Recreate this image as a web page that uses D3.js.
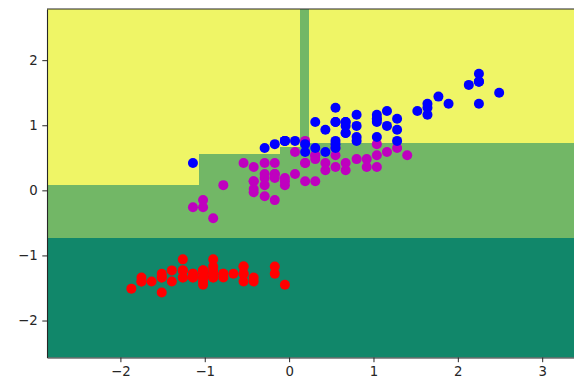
<!DOCTYPE html>
<html><head><meta charset="utf-8">
<script src="https://cdn.jsdelivr.net/npm/d3@7"></script>
<style>body{margin:0;background:#fff}svg{display:block}</style>
</head><body><svg id="c" width="574" height="383"></svg>
<script>
// ---- data ----
const xTicks = [-2, -1, 0, 1, 2, 3];
const yTicks = [-2, -1, 0, 1, 2];
const xDomain = [-2.870, 3.492];
const yDomain = [-2.568, 2.786];

// decision regions (rectangles, class index), later ones painted on top
const regionX0 = [-2.870, -2.870, -2.870, -1.070, -0.105, 0.235];
const regionX1 = [ 3.492,  3.492, -1.070, -0.105,  0.125, 3.492];
const regionY0 = [-2.568, -0.738,  0.076,  0.563,  0.666, 0.722];
const regionY1 = [-0.738,  2.786,  2.786,  2.786,  2.786, 2.786];
const regionClass = [0, 1, 2, 2, 2, 2];
const regionColors = ["#11876a", "#72b766", "#eff566"];

const class0X = [-0.90,-1.14,-1.39,-1.51,-1.02,-0.54,-1.51,-1.02,-1.75,-1.14,-0.54,-1.26,-1.26,-1.87,-0.05,-0.17,-0.54,-0.90,-0.17,-0.90,-0.54,-0.90,-1.51,-0.90,-1.26,-1.02,-1.02,-0.78,-0.78,-1.39,-1.26,-0.54,-0.78,-0.42,-1.14,-1.02,-0.42,-1.14,-1.75,-0.90,-1.02,-1.63,-1.75,-1.02,-0.90,-1.26,-0.90,-1.51,-0.66,-1.02];
const class0Y = [-1.34,-1.34,-1.40,-1.28,-1.34,-1.17,-1.34,-1.28,-1.34,-1.28,-1.28,-1.23,-1.34,-1.51,-1.45,-1.28,-1.40,-1.34,-1.17,-1.28,-1.17,-1.28,-1.57,-1.17,-1.06,-1.23,-1.23,-1.28,-1.34,-1.23,-1.23,-1.28,-1.28,-1.34,-1.28,-1.45,-1.40,-1.34,-1.40,-1.28,-1.40,-1.40,-1.40,-1.23,-1.06,-1.34,-1.23,-1.34,-1.28,-1.34];

const class1X = [1.40,0.67,1.28,-0.42,0.80,-0.17,0.55,-1.14,0.92,-0.78,-1.02,0.07,0.19,0.31,-0.29,1.04,-0.29,-0.05,0.43,-0.29,0.07,0.31,0.55,0.31,0.67,0.92,1.16,1.04,0.19,-0.17,-0.42,-0.42,-0.05,0.19,-0.54,0.19,1.04,0.55,-0.29,-0.42,-0.42,0.31,-0.05,-1.02,-0.29,-0.17,-0.17,0.43,-0.90,-0.17];
const class1Y = [0.54,0.42,0.65,0.14,0.48,0.42,0.54,-0.26,0.48,0.08,-0.15,0.25,0.14,0.54,-0.09,0.36,0.42,0.19,0.42,0.08,0.59,0.14,0.65,0.54,0.31,0.36,0.59,0.71,0.42,-0.15,0.02,-0.03,0.08,0.76,0.42,0.42,0.54,0.36,0.19,0.14,0.36,0.48,0.14,-0.26,0.25,0.25,0.25,0.31,-0.43,0.19];

const class2X = [0.55,-0.05,1.52,0.55,0.80,2.13,-1.14,1.77,1.04,1.64,0.80,0.67,1.16,-0.17,-0.05,0.67,0.80,2.25,2.25,0.19,1.28,-0.29,2.25,0.55,1.04,1.64,0.43,0.31,0.67,1.64,1.89,2.49,0.67,0.55,0.31,2.25,0.55,0.67,0.19,1.28,1.04,1.28,-0.05,1.16,1.04,1.04,0.55,0.80,0.43,0.07];
const class2Y = [1.27,0.76,1.22,1.05,1.16,1.62,0.42,1.44,1.16,1.33,0.76,0.88,0.99,0.71,0.76,0.88,0.99,1.67,1.79,0.71,1.10,0.65,1.67,0.65,1.10,1.27,0.59,0.65,1.05,1.16,1.33,1.50,1.05,0.76,1.05,1.33,1.05,0.99,0.59,0.93,1.05,0.76,0.76,1.22,1.10,0.82,0.71,0.82,0.93,0.76];

const seriesX = [class0X, class1X, class2X];
const seriesY = [class0Y, class1Y, class2Y];
const seriesColors = ["#ff0000", "#bf00bf", "#0000ff"];

// ---- layout ----
const svg = d3.select("#c");
const mLeft = 47, mTop = 9, mRight = 583.7, mBottom = 357.5;
const x = d3.scaleLinear().domain(xDomain).range([mLeft, mRight]);
const y = d3.scaleLinear().domain(yDomain).range([mBottom, mTop]);

svg.append("defs").append("clipPath").attr("id", "clip")
  .append("rect").attr("x", mLeft).attr("y", mTop).attr("width", mRight - mLeft).attr("height", mBottom - mTop);

const plot = svg.append("g").attr("clip-path", "url(#clip)");

plot.selectAll("rect.region").data(regionClass.map((c, i) => ({c, i})))
  .join("rect").attr("class", "region")
  .attr("x", d => x(regionX0[d.i]))
  .attr("width", d => x(regionX1[d.i]) - x(regionX0[d.i]))
  .attr("y", d => y(regionY1[d.i]))
  .attr("height", d => y(regionY0[d.i]) - y(regionY1[d.i]))
  .attr("fill", d => regionColors[d.c])
  .attr("shape-rendering", "crispEdges");

seriesX.forEach((xs, k) => {
  plot.append("g").selectAll("circle").data(xs.map((v, i) => [v, seriesY[k][i]]))
    .join("circle")
    .attr("cx", d => x(d[0])).attr("cy", d => y(d[1]))
    .attr("r", 5).attr("fill", seriesColors[k]);
});

// axes
const fmt = d => (d < 0 ? "\u2212" + Math.abs(d) : String(d));
const xAxis = d3.axisBottom(x).tickValues(xTicks).tickFormat(fmt).tickSize(4.7).tickPadding(4.7).tickSizeOuter(0);
const yAxis = d3.axisLeft(y).tickValues(yTicks).tickFormat(fmt).tickSize(4.7).tickPadding(4.7).tickSizeOuter(0);

const gx = svg.append("g").attr("transform", `translate(0,${mBottom})`).call(xAxis);
const gy = svg.append("g").attr("transform", `translate(${mLeft},0)`).call(yAxis);
[gx, gy].forEach(g => {
  g.selectAll("text").attr("font-family", "DejaVu Sans").attr("font-size", "13.3px").attr("fill", "#262626");
  g.selectAll("line").attr("stroke", "#262626").attr("stroke-width", 1);
  g.select(".domain").attr("stroke", "#262626").attr("stroke-width", 1.1);
});
// top spine
svg.append("line").attr("x1", mLeft).attr("x2", mRight).attr("y1", mTop).attr("y2", mTop)
  .attr("stroke", "#262626").attr("stroke-width", 1.1);
</script>
</body></html>
